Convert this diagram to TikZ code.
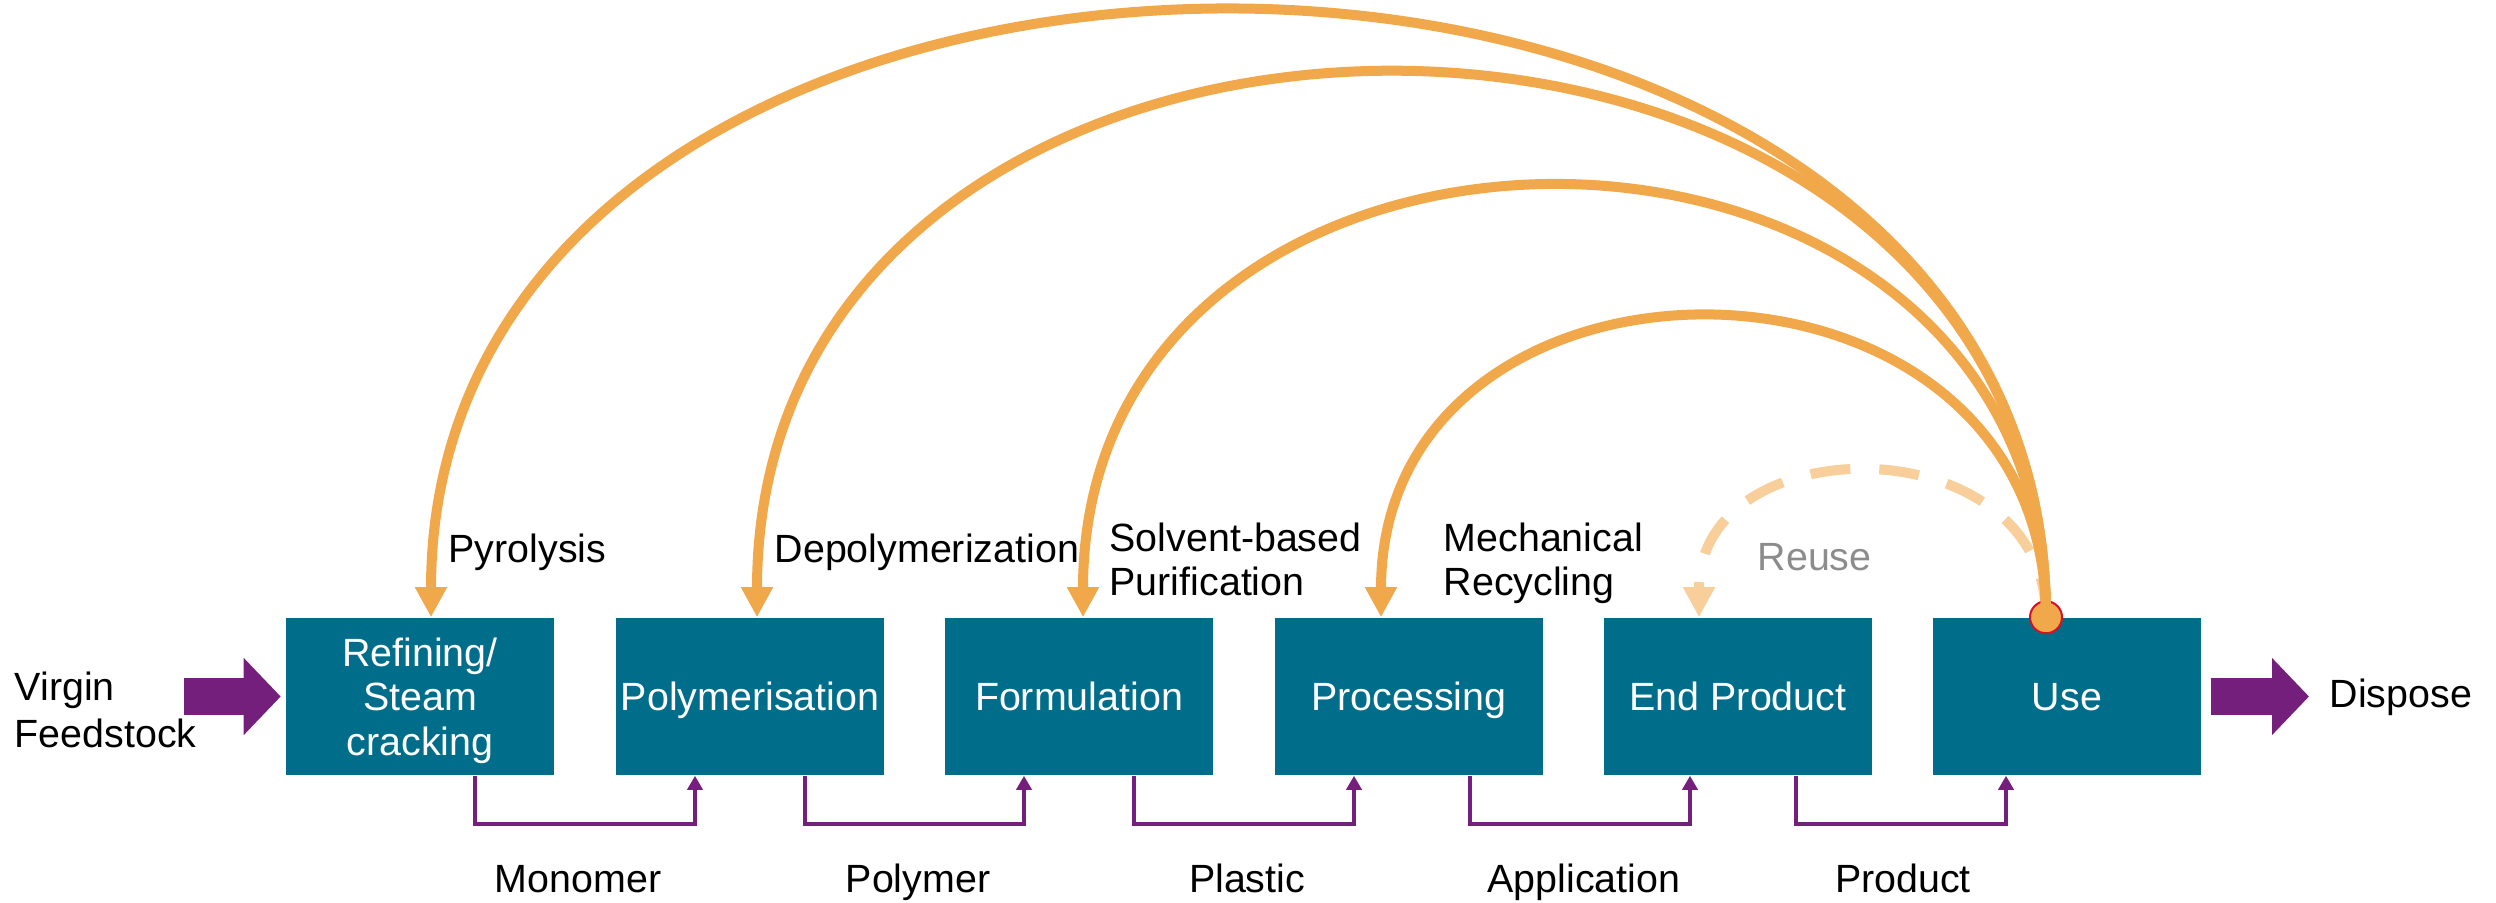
\documentclass[tikz,border=0pt]{standalone}
\usepackage{fontspec}
\setmainfont{Liberation Sans}
\usetikzlibrary{arrows.meta,calc}
\definecolor{boxteal}{RGB}{0,110,138}
\definecolor{flowpurple}{RGB}{116,31,124}
\definecolor{looporange}{RGB}{240,168,74}
\definecolor{reusepeach}{RGB}{248,206,155}
\definecolor{hubred}{RGB}{215,16,42}
\definecolor{reusegray}{RGB}{140,140,140}

\begin{document}
\begin{tikzpicture}[x=0.01cm,y=0.01cm]
\tikzstyle{every node}+=[inner sep=0pt, font=\fontsize{11.2}{13.5}\selectfont]
\tikzstyle{stagebox}=[fill=boxteal, text=white, minimum width=2.67cm, minimum height=1.57cm, align=center, text depth=0pt, font=\fontsize{11.2}{12.6}\selectfont]
\tikzstyle{looplabel}=[anchor=north west, align=left, font=\fontsize{11.2}{12.5}\selectfont]
\tikzstyle{flowline}=[flowpurple, line width=0.043cm, -{Triangle[length=0.14cm,width=0.15cm]}]
\tikzstyle{bigflow}=[flowpurple, line width=0.37cm, -{Triangle[length=0.37cm,width=0.75cm]}]
\tikzstyle{recycle}=[looporange, line width=0.1cm, -{Triangle[length=0.3cm,width=0.3cm]}]
\tikzstyle{reusearc}=[reusepeach, line width=0.1cm, dash pattern=on 0.4cm off 0.29cm, -{Triangle[length=0.3cm,width=0.3cm]}]
\useasboundingbox (0,0) rectangle (2496,-902);
\node[stagebox] (refin) at (420,-696.5) {Refining/\\Steam\\cracking};
\node[stagebox] (polym) at (750,-696.5) {Polymerisation};
\node[stagebox] (formul) at (1079,-696.5) {Formulation};
\node[stagebox] (proc) at (1409,-696.5) {Processing};
\node[stagebox] (endprod) at (1738,-696.5) {End Product};
\node[stagebox] (use) at (2067,-696.5) {Use};
\node[anchor=west, align=left] (virgin) at (14,-710) {Virgin\\Feedstock};
\node[anchor=base west] (dispose) at (2329,-707) {Dispose};
\coordinate (feed) at (184,-696.5);
\coordinate (out) at (2309,-696.5);
\draw[bigflow] (feed) -- ([xshift=-0.05cm]refin.west);
\draw[bigflow] ([xshift=0.1cm]use.east) -- (out);
\draw[flowline] ($(refin.south)+(55,0)$) -- ++(0,-48) -| ($(polym.south)+(-55,0)$);
\draw[flowline] ($(polym.south)+(55,0)$) -- ++(0,-48) -| ($(formul.south)+(-55,0)$);
\draw[flowline] ($(formul.south)+(55,0)$) -- ++(0,-48) -| ($(proc.south)+(-55,0)$);
\draw[flowline] ($(proc.south)+(61,0)$) -- ++(0,-48) -| ($(endprod.south)+(-48,0)$);
\draw[flowline] ($(endprod.south)+(58,0)$) -- ++(0,-48) -| ($(use.south)+(-61,0)$);
\node[anchor=base] (monomer) at (578,-892) {Monomer};
\node[anchor=base] (polymer) at (918,-892) {Polymer};
\node[anchor=base] (plastic) at (1247,-892) {Plastic};
\node[anchor=base] (applic) at (1584,-892) {Application};
\node[anchor=base] (product) at (1903,-892) {Product};
\coordinate (usetop) at ($(use.north)+(-21,0)$);
\coordinate (refintop) at ($(refin.north)+(11,0)$);
\coordinate (polymtop) at ($(polym.north)+(7,0)$);
\coordinate (formultop) at ($(formul.north)+(4,0)$);
\coordinate (proctop) at ($(proc.north)+(-28,0)$);
\coordinate (endtop) at ($(endprod.north)+(-39,0)$);
\draw[reusearc] (usetop) .. controls +(0,193) and +(0,193) .. (endtop);
\node[circle, draw=hubred, fill=looporange, line width=0.02cm, minimum size=0.32cm] (hub) at (usetop) {};
\draw[recycle] (usetop) .. controls +(0,807) and +(0,807) .. (refintop);
\draw[recycle] (usetop) .. controls +(0,724) and +(0,724) .. (polymtop);
\draw[recycle] (usetop) .. controls +(0,573) and +(0,573) .. (formultop);
\draw[recycle] (usetop) .. controls +(0,399) and +(0,399) .. (proctop);
\node[anchor=base west] (pyro) at (448,-562) {Pyrolysis};
\node[anchor=base west] (depoly) at (774,-562) {Depolymerization};
\node[looplabel] (solvent) at (1109,-522) {Solvent-based\\Purification};
\node[looplabel] (mech) at (1443,-522) {Mechanical\\Recycling};
\node[anchor=base west, text=reusegray] (reuse) at (1757,-570) {Reuse};
\end{tikzpicture}
\end{document}
